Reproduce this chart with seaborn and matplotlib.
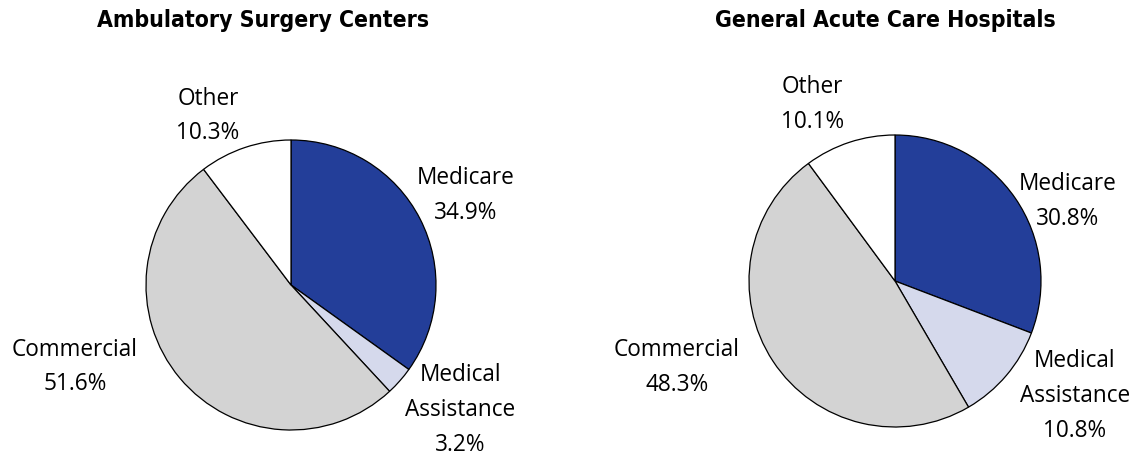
import matplotlib.pyplot as plt
import seaborn as sns
from matplotlib import font_manager as fm

# Data
categories = ["Medicare", "Medical\nAssistance", "Commercial", "Other"]
asc_share = [34.9, 3.2, 51.6, 10.3]
gach_share = [30.8, 10.8, 48.3, 10.1]
titles = ["Ambulatory Surgery Centers", "General Acute Care Hospitals"]

colors = ["#233e99", "#d5d9ec", "#d3d3d3", "#ffffff"]

sns.set_theme(style="white")
plt.rcParams["font.family"] = ["Open Sans", "DejaVu Sans"]
plt.rcParams["text.color"] = "black"


def pick_font(name, weight, want_condensed, fallback):
    # pick one font file explicitly so the result does not depend on cache order
    cands = sorted(
        f.fname for f in fm.fontManager.ttflist
        if f.name == name and f.style == "normal" and f.weight == weight
        and (("Condensed" in f.fname) == want_condensed)
    )
    if cands:
        return fm.FontProperties(fname=cands[0])
    return fm.FontProperties(family=fallback, weight=weight)


label_font = pick_font("Open Sans", 400, False, ["Open Sans", "DejaVu Sans"])
title_font = pick_font("DejaVu Sans", 700, True, ["DejaVu Sans"])

W, H = 1135, 465
fig = plt.figure(figsize=(W / 100, H / 100), dpi=100)


def pie_axes(cx, cy, r):
    return fig.add_axes([(cx - r) / W, (H - cy - r) / H, 2 * r / W, 2 * r / H])


# label placement (in units of pie radius) per panel
label_pos = [
    [(1.207, 0.620), (1.166, -0.862), (-1.49, -0.565), (-0.572, 1.165)],
    [(1.185, 0.547), (1.233, -0.788), (-1.493, -0.595), (-0.568, 1.210)],
]
axes_geom = [(291, 285, 145), (895, 281, 146)]
title_x = [263, 885]

for k, share in enumerate([asc_share, gach_share]):
    ax = pie_axes(*axes_geom[k])
    ax.pie(
        share,
        colors=colors,
        startangle=90,
        counterclock=False,
        radius=1,
        wedgeprops=dict(edgecolor="black", linewidth=0.9),
    )
    ax.set_xlim(-1, 1)
    ax.set_ylim(-1, 1)
    ax.set_aspect("equal")
    ax.axis("off")
    for (x, y), cat, v in zip(label_pos[k], categories, share):
        ax.text(x, y, f"{cat}\n{v}%", ha="center", va="center",
                fontproperties=label_font, fontsize=16.3, linespacing=1.6,
                color="black")
    fig.text(title_x[k] / W, 1 - 21 / H, titles[k], ha="center", va="center",
             fontproperties=title_font, fontsize=16.5, color="black")

fig.savefig("out.png", dpi=100)
